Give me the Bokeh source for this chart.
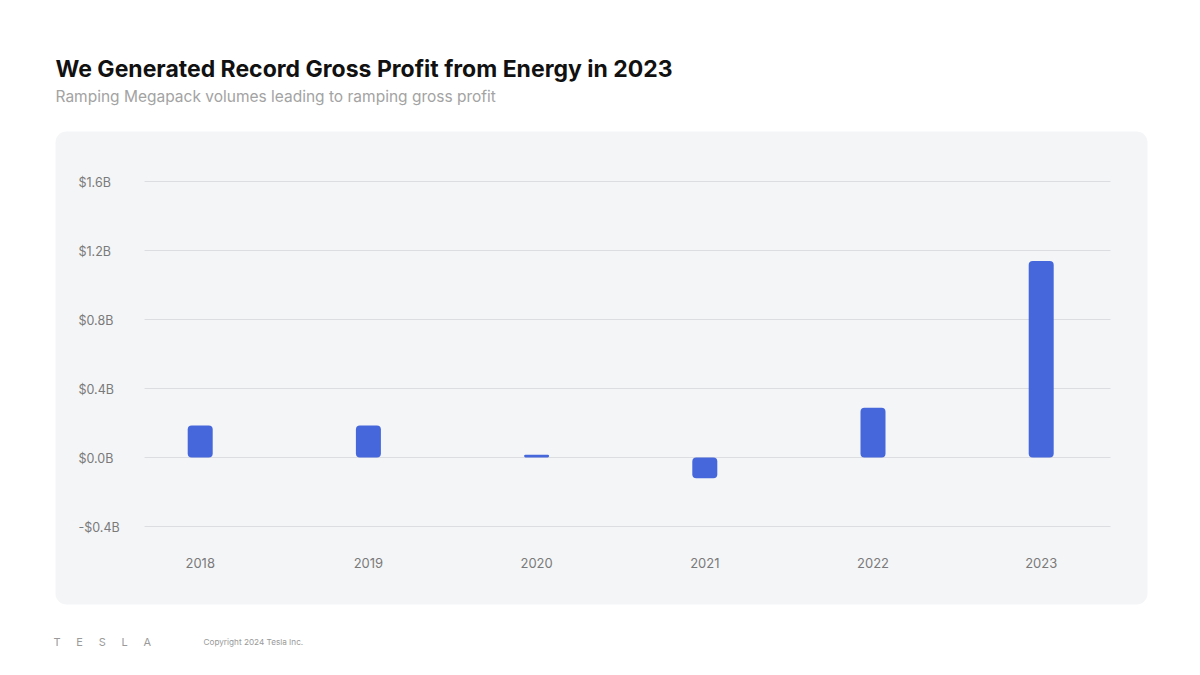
from bokeh.plotting import figure
from bokeh.models import (Range1d, FixedTicker, BoxAnnotation, Label, Grid, ColumnDataSource)
from bokeh.core.properties import value
from bokeh.embed import file_html
from bokeh.resources import INLINE

# ---- data ----
years = [2018, 2019, 2020, 2021, 2022, 2023]
gross_profit_b = [0.186, 0.186, 0.016, -0.12, 0.288, 1.14]
y_ticks = [-0.4, 0.0, 0.4, 0.8, 1.2, 1.6]

title_text = "We Generated Record Gross Profit from Energy in 2023"
subtitle_text = "Ramping Megapack volumes leading to ramping gross profit"
SP = "\u2002\u2002\u2005\u2009"
logo_text = SP.join(["T", "E", "S", "L", "A"])
copyright_text = "Copyright 2024 Tesla Inc."

FONT = "Inter"
BAR = "#4667DB"
PANEL = "#f4f5f7"
TICK = "#7a7a7a"

# layout constants (pixel geometry)
PX_PER_YEAR = 168.2
PX_PER_B = 172.4
PANEL_L, PANEL_R, PANEL_T, PANEL_B = 55, 1147, 131, 604
X0_PX, ZERO_PX = 199.7, 457.0

def xdata(px):
    return years[0] + (px - X0_PX) / PX_PER_YEAR

def ydata(py):
    return (ZERO_PX - py) / PX_PER_B

p = figure(width=1200, height=675, output_backend="svg", toolbar_location=None,
           title=None, x_axis_location=None, y_axis_location=None,
           x_range=Range1d(xdata(0), xdata(1200)),
           y_range=Range1d(ydata(675), ydata(0)),
           min_border=0)
p.border_fill_color = "white"
p.background_fill_color = "white"
p.outline_line_color = None
p.xgrid.visible = False
p.ygrid.visible = False

panel = BoxAnnotation(left=xdata(PANEL_L), right=xdata(PANEL_R),
                      top=ydata(PANEL_T), bottom=ydata(PANEL_B),
                      fill_color=PANEL, fill_alpha=1.0, line_color=None,
                      border_radius=11, level="image")
p.add_layout(panel)

grid = Grid(dimension=1, ticker=FixedTicker(ticks=y_ticks),
            cross_bounds=(xdata(144), xdata(1110)),
            grid_line_color="#dcdde0", grid_line_width=1)
p.add_layout(grid)

p.vbar(x=years, top=gross_profit_b, bottom=0, width=25 / PX_PER_YEAR,
       fill_color=BAR, line_color=None, border_radius=4)

# tick labels drawn through the scales
def fmt(v):
    return ("-" if v < 0 else "") + "$" + f"{abs(v):.1f}" + "B"

ysrc = ColumnDataSource(dict(x=[xdata(78)] * len(y_ticks),
                             y=y_ticks, text=[fmt(v) for v in y_ticks]))
p.text(x="x", y="y", text="text", source=ysrc, text_align="left",
       text_baseline="middle", text_font=value(FONT), text_font_size="12.5px",
       text_color=TICK, y_offset=1)

xsrc = ColumnDataSource(dict(x=years, y=[ydata(562)] * len(years),
                             text=[str(y) for y in years]))
p.text(x="x", y="y", text="text", source=xsrc, text_align="center",
       text_baseline="middle", text_font=value(FONT), text_font_size="13px",
       text_color=TICK)

# titles
p.add_layout(Label(x=xdata(55), y=ydata(68.5), text=title_text,
                   text_font=FONT, text_font_size="23px", text_font_style="bold",
                   text_color="#111111", text_baseline="alphabetic"))
p.add_layout(Label(x=xdata(55), y=ydata(95.5), text=subtitle_text,
                   text_font=FONT, text_font_size="15.5px",
                   text_color="#a3a3a3", text_baseline="alphabetic"))

# footer
p.add_layout(Label(x=xdata(53), y=ydata(641), text=logo_text,
                   text_font=FONT, text_font_size="11px",
                   text_color="#9a9a9a", text_baseline="alphabetic"))
p.add_layout(Label(x=xdata(203), y=ydata(641), text=copyright_text,
                   text_font=FONT, text_font_size="8.2px",
                   text_color="#9a9a9a", text_baseline="alphabetic"))

open("out.html", "w").write(file_html(p, INLINE))
